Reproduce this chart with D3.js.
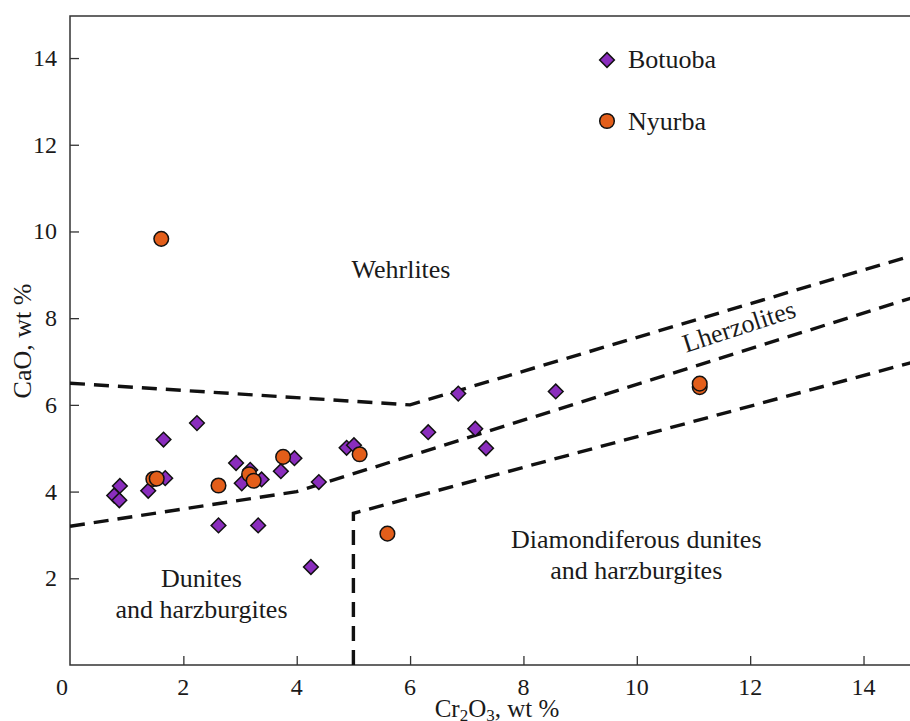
<!DOCTYPE html>
<html>
<head>
<meta charset="utf-8">
<script src="https://cdn.jsdelivr.net/npm/d3@7"></script>
<style>
  body { margin: 0; background: #fff; }
  text { font-family: "Liberation Serif", "Times New Roman", serif; fill: #1a1a1a; }
</style>
</head>
<body>
<svg></svg>
<script>
// Botuoba (diamonds)
var botuobaCr = [0.78, 0.87, 0.88, 1.38, 1.65, 1.68, 2.24, 2.62, 2.93, 3.03, 3.18, 3.32, 3.38, 3.72, 3.96, 4.25, 4.39, 4.88, 5.01, 6.32, 6.85, 7.15, 7.34, 8.57];
var botuobaCa = [3.91, 3.80, 4.13, 4.02, 5.20, 4.31, 5.58, 3.22, 4.66, 4.19, 4.50, 3.22, 4.28, 4.47, 4.77, 2.26, 4.22, 5.01, 5.07, 5.37, 6.26, 5.45, 5.00, 6.31];
// Nyurba (circles)
var nyurbaCr = [1.47, 1.53, 1.61, 2.62, 3.16, 3.24, 3.76, 5.11, 5.60, 11.11, 11.11];
var nyurbaCa = [4.29, 4.30, 9.83, 4.14, 4.40, 4.25, 4.80, 4.86, 3.03, 6.41, 6.49];

// field boundaries
var wehrliteLine = [[0, 6.5], [6, 6.0], [15, 9.5]];
var lherzLine = [[0, 3.2], [4, 4.0], [15, 8.53]];
var diamondLine = [[5, 0], [5, 3.5], [15, 7.03]];

var xTicks = [2, 4, 6, 8, 10, 12, 14];
var yTicks = [2, 4, 6, 8, 10, 12, 14];

var fields = [
    {lines: ["Wehrlites"], x: 5.84, y: 8.92},
    {lines: ["Dunites", "and harzburgites"], x: 2.32, y: 1.79},
    {lines: ["Diamondiferous dunites", "and harzburgites"], x: 9.99, y: 2.71}
];

var w = 910, h = 721;
var m = {left: 70, top: 16, bottom: 56};

var svg = d3.select("svg").attr("width", w).attr("height", h);

var x = d3.scaleLinear().domain([0, 14.82]).range([m.left, w]);
var y = d3.scaleLinear().domain([0, 14.97]).range([h - m.bottom, m.top]);

var purple = "#8a2dbd", orange = "#e35e1a";

// frame
svg.append("path")
    .attr("d", "M" + w + "," + y(14.97) + "H" + m.left + "V" + y(0) + "H" + w)
    .attr("fill", "none").attr("stroke", "#333").attr("stroke-width", 1.5);

// inward ticks
svg.append("g").attr("transform", "translate(0," + y(0) + ")")
    .call(d3.axisTop(x).tickValues(xTicks).tickSize(9).tickFormat(""))
    .call(function(g) { g.select(".domain").remove(); })
    .selectAll("line").attr("stroke", "#333").attr("stroke-width", 1.3);
svg.append("g").attr("transform", "translate(" + m.left + ",0)")
    .call(d3.axisRight(y).tickValues(yTicks).tickSize(9).tickFormat(""))
    .call(function(g) { g.select(".domain").remove(); })
    .selectAll("line").attr("stroke", "#333").attr("stroke-width", 1.3);

// tick labels
svg.append("g").selectAll("text").data(xTicks).enter().append("text")
    .attr("x", function(d) { return x(d); })
    .attr("y", y(0) + 30)
    .attr("text-anchor", "middle")
    .style("font-size", "24px")
    .text(function(d) { return d; });
svg.append("text").attr("x", x(0) - 8).attr("y", y(0) + 30)
    .attr("text-anchor", "middle").style("font-size", "24px").text("0");
svg.append("g").selectAll("text").data(yTicks).enter().append("text")
    .attr("x", m.left - 13)
    .attr("y", function(d) { return y(d) + 8; })
    .attr("text-anchor", "end")
    .style("font-size", "24px")
    .text(function(d) { return d; });

// axis titles
var xt = svg.append("text").attr("x", 497).attr("y", 717)
    .attr("text-anchor", "middle").style("font-size", "25px");
xt.append("tspan").text("Cr");
xt.append("tspan").attr("dy", 4).style("font-size", "17px").text("2");
xt.append("tspan").attr("dy", -4).text("O");
xt.append("tspan").attr("dy", 4).style("font-size", "17px").text("3");
xt.append("tspan").attr("dy", -4).text(", wt %");

svg.append("text")
    .attr("transform", "translate(31," + 341 + ") rotate(-90)")
    .attr("text-anchor", "middle").style("font-size", "26px")
    .text("CaO, wt %");

// dashed boundaries
var line = d3.line().x(function(d) { return x(d[0]); }).y(function(d) { return y(d[1]); });
svg.append("clipPath").attr("id", "clip").append("rect")
    .attr("x", m.left).attr("y", m.top).attr("width", w - m.left).attr("height", y(0) - m.top);
svg.append("g").attr("clip-path", "url(#clip)")
    .selectAll("path").data([wehrliteLine, lherzLine, diamondLine]).enter().append("path")
    .attr("d", line)
    .attr("fill", "none").attr("stroke", "#111")
    .attr("stroke-width", 3.4).attr("stroke-dasharray", "15,9");

// field labels
fields.forEach(function(f) {
    var t = svg.append("text").attr("text-anchor", "middle").style("font-size", "26px");
    f.lines.forEach(function(s, i) {
        t.append("tspan").attr("x", x(f.x)).attr("y", y(f.y) + i * 31).text(s);
    });
});
svg.append("text")
    .attr("transform", "translate(" + x(11.85) + "," + y(7.62) + ") rotate(-18)")
    .attr("text-anchor", "middle").style("font-size", "26px")
    .text("Lherzolites");

// points
var diamond = d3.symbol().type(d3.symbolSquare).size(108);
svg.append("g").selectAll("path").data(d3.range(botuobaCr.length)).enter().append("path")
    .attr("d", diamond)
    .attr("transform", function(i) { return "translate(" + x(botuobaCr[i]) + "," + y(botuobaCa[i]) + ") rotate(45)"; })
    .attr("fill", purple).attr("stroke", "#111").attr("stroke-width", 1.5);

svg.append("g").selectAll("circle").data(d3.range(nyurbaCr.length)).enter().append("circle")
    .attr("cx", function(i) { return x(nyurbaCr[i]); })
    .attr("cy", function(i) { return y(nyurbaCa[i]); })
    .attr("r", 7.3)
    .attr("fill", orange).attr("stroke", "#111").attr("stroke-width", 1.5);

// legend
var lg = svg.append("g");
lg.append("path").attr("d", diamond)
    .attr("transform", "translate(607,60) rotate(45)")
    .attr("fill", purple).attr("stroke", "#111").attr("stroke-width", 1.5);
lg.append("text").attr("x", 628).attr("y", 68).style("font-size", "26px").text("Botuoba");
lg.append("circle").attr("cx", 607).attr("cy", 121).attr("r", 7.3)
    .attr("fill", orange).attr("stroke", "#111").attr("stroke-width", 1.5);
lg.append("text").attr("x", 628).attr("y", 130).style("font-size", "26px").text("Nyurba");
</script>
</body>
</html>
